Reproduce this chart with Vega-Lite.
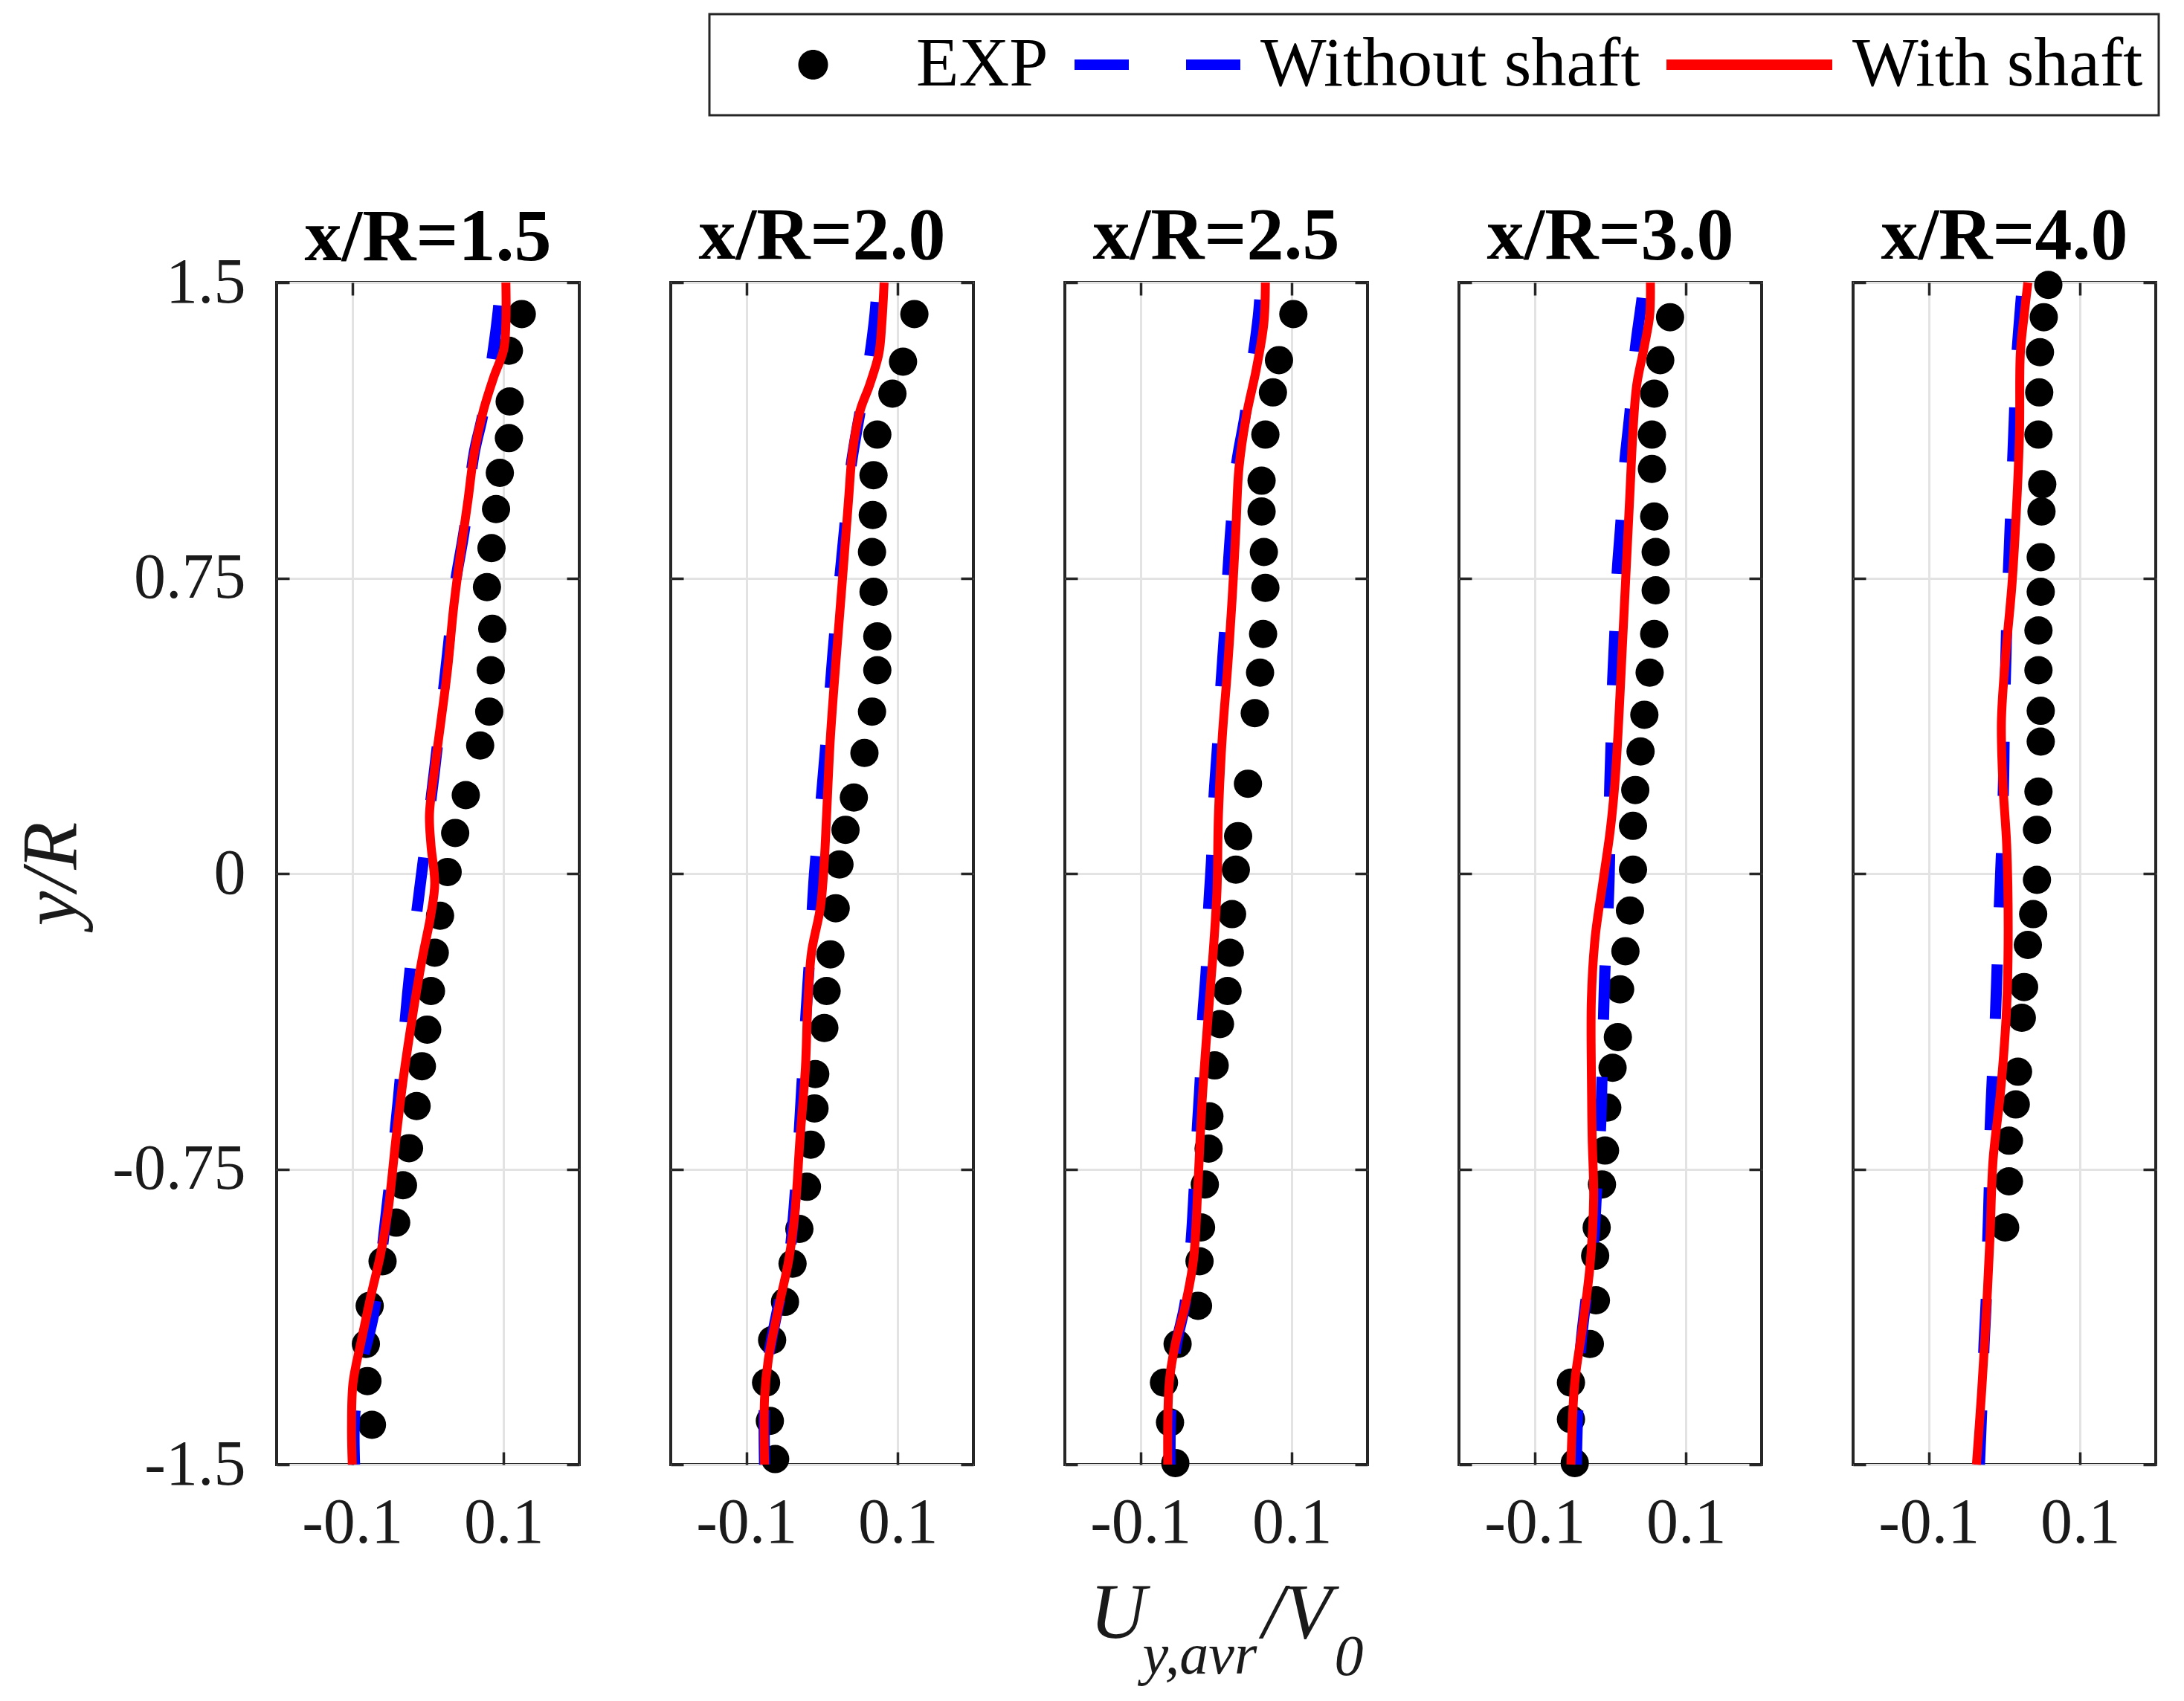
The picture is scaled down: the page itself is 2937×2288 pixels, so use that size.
{
  "$schema": "https://vega.github.io/schema/vega-lite/v6.json",
  "background": "white",
  "padding": {"left": 15, "top": 17, "right": 10, "bottom": 10},
  "datasets": {
    "exp": [
      {"xR": 1.5, "u": 0.124, "y": 1.42}, {"xR": 1.5, "u": 0.107, "y": 1.327}, {"xR": 1.5, "u": 0.108, "y": 1.198}, {"xR": 1.5, "u": 0.107, "y": 1.105},
      {"xR": 1.5, "u": 0.095, "y": 1.017}, {"xR": 1.5, "u": 0.09, "y": 0.925}, {"xR": 1.5, "u": 0.084, "y": 0.826}, {"xR": 1.5, "u": 0.078, "y": 0.727},
      {"xR": 1.5, "u": 0.085, "y": 0.621}, {"xR": 1.5, "u": 0.083, "y": 0.516}, {"xR": 1.5, "u": 0.081, "y": 0.411}, {"xR": 1.5, "u": 0.069, "y": 0.325},
      {"xR": 1.5, "u": 0.05, "y": 0.199}, {"xR": 1.5, "u": 0.036, "y": 0.103}, {"xR": 1.5, "u": 0.026, "y": 0.004}, {"xR": 1.5, "u": 0.016, "y": -0.107},
      {"xR": 1.5, "u": 0.009, "y": -0.201}, {"xR": 1.5, "u": 0.004, "y": -0.298}, {"xR": 1.5, "u": -0.001, "y": -0.396}, {"xR": 1.5, "u": -0.008, "y": -0.489},
      {"xR": 1.5, "u": -0.015, "y": -0.59}, {"xR": 1.5, "u": -0.025, "y": -0.697}, {"xR": 1.5, "u": -0.033, "y": -0.791}, {"xR": 1.5, "u": -0.042, "y": -0.886},
      {"xR": 1.5, "u": -0.06, "y": -0.984}, {"xR": 1.5, "u": -0.077, "y": -1.097}, {"xR": 1.5, "u": -0.082, "y": -1.194}, {"xR": 1.5, "u": -0.08, "y": -1.288},
      {"xR": 1.5, "u": -0.074, "y": -1.399},
      {"xR": 2.0, "u": 0.122, "y": 1.42}, {"xR": 2.0, "u": 0.107, "y": 1.299}, {"xR": 2.0, "u": 0.093, "y": 1.218}, {"xR": 2.0, "u": 0.073, "y": 1.114},
      {"xR": 2.0, "u": 0.068, "y": 1.011}, {"xR": 2.0, "u": 0.067, "y": 0.91}, {"xR": 2.0, "u": 0.066, "y": 0.816}, {"xR": 2.0, "u": 0.068, "y": 0.715},
      {"xR": 2.0, "u": 0.073, "y": 0.602}, {"xR": 2.0, "u": 0.073, "y": 0.516}, {"xR": 2.0, "u": 0.066, "y": 0.411}, {"xR": 2.0, "u": 0.056, "y": 0.306},
      {"xR": 2.0, "u": 0.042, "y": 0.193}, {"xR": 2.0, "u": 0.031, "y": 0.111}, {"xR": 2.0, "u": 0.023, "y": 0.023}, {"xR": 2.0, "u": 0.018, "y": -0.088},
      {"xR": 2.0, "u": 0.011, "y": -0.205}, {"xR": 2.0, "u": 0.006, "y": -0.298}, {"xR": 2.0, "u": 0.003, "y": -0.392}, {"xR": 2.0, "u": -0.009, "y": -0.509},
      {"xR": 2.0, "u": -0.01, "y": -0.596}, {"xR": 2.0, "u": -0.015, "y": -0.688}, {"xR": 2.0, "u": -0.02, "y": -0.795}, {"xR": 2.0, "u": -0.03, "y": -0.902},
      {"xR": 2.0, "u": -0.039, "y": -0.99}, {"xR": 2.0, "u": -0.049, "y": -1.087}, {"xR": 2.0, "u": -0.066, "y": -1.184}, {"xR": 2.0, "u": -0.074, "y": -1.292},
      {"xR": 2.0, "u": -0.069, "y": -1.389}, {"xR": 2.0, "u": -0.062, "y": -1.486},
      {"xR": 2.5, "u": 0.102, "y": 1.42}, {"xR": 2.5, "u": 0.083, "y": 1.303}, {"xR": 2.5, "u": 0.075, "y": 1.221}, {"xR": 2.5, "u": 0.065, "y": 1.114},
      {"xR": 2.5, "u": 0.06, "y": 0.997}, {"xR": 2.5, "u": 0.06, "y": 0.919}, {"xR": 2.5, "u": 0.063, "y": 0.816}, {"xR": 2.5, "u": 0.065, "y": 0.725},
      {"xR": 2.5, "u": 0.062, "y": 0.608}, {"xR": 2.5, "u": 0.058, "y": 0.51}, {"xR": 2.5, "u": 0.051, "y": 0.407}, {"xR": 2.5, "u": 0.042, "y": 0.228},
      {"xR": 2.5, "u": 0.029, "y": 0.095}, {"xR": 2.5, "u": 0.026, "y": 0.01}, {"xR": 2.5, "u": 0.021, "y": -0.103}, {"xR": 2.5, "u": 0.018, "y": -0.201},
      {"xR": 2.5, "u": 0.015, "y": -0.298}, {"xR": 2.5, "u": 0.005, "y": -0.382}, {"xR": 2.5, "u": -0.002, "y": -0.487}, {"xR": 2.5, "u": -0.009, "y": -0.616},
      {"xR": 2.5, "u": -0.01, "y": -0.698}, {"xR": 2.5, "u": -0.015, "y": -0.789}, {"xR": 2.5, "u": -0.02, "y": -0.898}, {"xR": 2.5, "u": -0.022, "y": -0.984},
      {"xR": 2.5, "u": -0.024, "y": -1.097}, {"xR": 2.5, "u": -0.051, "y": -1.194}, {"xR": 2.5, "u": -0.069, "y": -1.292}, {"xR": 2.5, "u": -0.061, "y": -1.393},
      {"xR": 2.5, "u": -0.054, "y": -1.496},
      {"xR": 3.0, "u": 0.079, "y": 1.412}, {"xR": 3.0, "u": 0.066, "y": 1.303}, {"xR": 3.0, "u": 0.058, "y": 1.218}, {"xR": 3.0, "u": 0.055, "y": 1.114},
      {"xR": 3.0, "u": 0.055, "y": 1.027}, {"xR": 3.0, "u": 0.058, "y": 0.906}, {"xR": 3.0, "u": 0.06, "y": 0.816}, {"xR": 3.0, "u": 0.06, "y": 0.719},
      {"xR": 3.0, "u": 0.058, "y": 0.608}, {"xR": 3.0, "u": 0.052, "y": 0.51}, {"xR": 3.0, "u": 0.045, "y": 0.403}, {"xR": 3.0, "u": 0.04, "y": 0.31},
      {"xR": 3.0, "u": 0.033, "y": 0.212}, {"xR": 3.0, "u": 0.03, "y": 0.121}, {"xR": 3.0, "u": 0.03, "y": 0.01}, {"xR": 3.0, "u": 0.026, "y": -0.094},
      {"xR": 3.0, "u": 0.02, "y": -0.197}, {"xR": 3.0, "u": 0.013, "y": -0.294}, {"xR": 3.0, "u": 0.01, "y": -0.415}, {"xR": 3.0, "u": 0.003, "y": -0.493},
      {"xR": 3.0, "u": -0.004, "y": -0.594}, {"xR": 3.0, "u": -0.007, "y": -0.703}, {"xR": 3.0, "u": -0.011, "y": -0.789}, {"xR": 3.0, "u": -0.018, "y": -0.898},
      {"xR": 3.0, "u": -0.02, "y": -0.97}, {"xR": 3.0, "u": -0.019, "y": -1.083}, {"xR": 3.0, "u": -0.027, "y": -1.194}, {"xR": 3.0, "u": -0.052, "y": -1.292},
      {"xR": 3.0, "u": -0.052, "y": -1.385}, {"xR": 3.0, "u": -0.047, "y": -1.496},
      {"xR": 4.0, "u": 0.058, "y": 1.494}, {"xR": 4.0, "u": 0.052, "y": 1.412}, {"xR": 4.0, "u": 0.047, "y": 1.323}, {"xR": 4.0, "u": 0.046, "y": 1.221},
      {"xR": 4.0, "u": 0.045, "y": 1.114}, {"xR": 4.0, "u": 0.05, "y": 0.988}, {"xR": 4.0, "u": 0.049, "y": 0.919}, {"xR": 4.0, "u": 0.048, "y": 0.803},
      {"xR": 4.0, "u": 0.048, "y": 0.715}, {"xR": 4.0, "u": 0.045, "y": 0.617}, {"xR": 4.0, "u": 0.045, "y": 0.516}, {"xR": 4.0, "u": 0.048, "y": 0.413},
      {"xR": 4.0, "u": 0.048, "y": 0.335}, {"xR": 4.0, "u": 0.045, "y": 0.208}, {"xR": 4.0, "u": 0.043, "y": 0.111}, {"xR": 4.0, "u": 0.043, "y": -0.016},
      {"xR": 4.0, "u": 0.038, "y": -0.103}, {"xR": 4.0, "u": 0.031, "y": -0.181}, {"xR": 4.0, "u": 0.026, "y": -0.288}, {"xR": 4.0, "u": 0.023, "y": -0.366},
      {"xR": 4.0, "u": 0.018, "y": -0.503}, {"xR": 4.0, "u": 0.015, "y": -0.586}, {"xR": 4.0, "u": 0.006, "y": -0.678}, {"xR": 4.0, "u": 0.006, "y": -0.781},
      {"xR": 4.0, "u": 0.001, "y": -0.898}
    ],
    "with": [
      {"xR": 1.5, "u": 0.103, "y": 1.5}, {"xR": 1.5, "u": 0.103, "y": 1.397}, {"xR": 1.5, "u": 0.1, "y": 1.329}, {"xR": 1.5, "u": 0.087, "y": 1.26},
      {"xR": 1.5, "u": 0.073, "y": 1.173}, {"xR": 1.5, "u": 0.061, "y": 1.066}, {"xR": 1.5, "u": 0.053, "y": 0.949}, {"xR": 1.5, "u": 0.043, "y": 0.812},
      {"xR": 1.5, "u": 0.034, "y": 0.676}, {"xR": 1.5, "u": 0.026, "y": 0.52}, {"xR": 1.5, "u": 0.017, "y": 0.384}, {"xR": 1.5, "u": 0.009, "y": 0.267},
      {"xR": 1.5, "u": 0.002, "y": 0.15}, {"xR": 1.5, "u": 0.004, "y": 0.072}, {"xR": 1.5, "u": 0.009, "y": -0.025}, {"xR": 1.5, "u": 0.004, "y": -0.103},
      {"xR": 1.5, "u": -0.008, "y": -0.22}, {"xR": 1.5, "u": -0.02, "y": -0.357}, {"xR": 1.5, "u": -0.032, "y": -0.512}, {"xR": 1.5, "u": -0.042, "y": -0.668},
      {"xR": 1.5, "u": -0.052, "y": -0.844}, {"xR": 1.5, "u": -0.062, "y": -0.96}, {"xR": 1.5, "u": -0.076, "y": -1.077}, {"xR": 1.5, "u": -0.089, "y": -1.194},
      {"xR": 1.5, "u": -0.099, "y": -1.292}, {"xR": 1.5, "u": -0.101, "y": -1.409}, {"xR": 1.5, "u": -0.1, "y": -1.5},
      {"xR": 2.0, "u": 0.082, "y": 1.5}, {"xR": 2.0, "u": 0.079, "y": 1.397}, {"xR": 2.0, "u": 0.075, "y": 1.319}, {"xR": 2.0, "u": 0.063, "y": 1.241},
      {"xR": 2.0, "u": 0.05, "y": 1.173}, {"xR": 2.0, "u": 0.04, "y": 1.066}, {"xR": 2.0, "u": 0.035, "y": 0.949}, {"xR": 2.0, "u": 0.028, "y": 0.773},
      {"xR": 2.0, "u": 0.02, "y": 0.579}, {"xR": 2.0, "u": 0.011, "y": 0.345}, {"xR": 2.0, "u": 0.006, "y": 0.15}, {"xR": 2.0, "u": 0.003, "y": 0.033},
      {"xR": 2.0, "u": -0.002, "y": -0.084}, {"xR": 2.0, "u": -0.014, "y": -0.201}, {"xR": 2.0, "u": -0.019, "y": -0.337}, {"xR": 2.0, "u": -0.022, "y": -0.493},
      {"xR": 2.0, "u": -0.029, "y": -0.668}, {"xR": 2.0, "u": -0.036, "y": -0.863}, {"xR": 2.0, "u": -0.044, "y": -0.98}, {"xR": 2.0, "u": -0.057, "y": -1.097},
      {"xR": 2.0, "u": -0.071, "y": -1.233}, {"xR": 2.0, "u": -0.076, "y": -1.331}, {"xR": 2.0, "u": -0.076, "y": -1.5},
      {"xR": 2.5, "u": 0.065, "y": 1.5}, {"xR": 2.5, "u": 0.063, "y": 1.397}, {"xR": 2.5, "u": 0.053, "y": 1.28}, {"xR": 2.5, "u": 0.04, "y": 1.163},
      {"xR": 2.5, "u": 0.03, "y": 1.027}, {"xR": 2.5, "u": 0.026, "y": 0.871}, {"xR": 2.5, "u": 0.021, "y": 0.695}, {"xR": 2.5, "u": 0.015, "y": 0.52},
      {"xR": 2.5, "u": 0.008, "y": 0.345}, {"xR": 2.5, "u": 0.003, "y": 0.15}, {"xR": 2.5, "u": 0.001, "y": -0.045}, {"xR": 2.5, "u": -0.004, "y": -0.201},
      {"xR": 2.5, "u": -0.012, "y": -0.396}, {"xR": 2.5, "u": -0.019, "y": -0.59}, {"xR": 2.5, "u": -0.024, "y": -0.785}, {"xR": 2.5, "u": -0.03, "y": -0.98},
      {"xR": 2.5, "u": -0.041, "y": -1.097}, {"xR": 2.5, "u": -0.054, "y": -1.194}, {"xR": 2.5, "u": -0.062, "y": -1.292}, {"xR": 2.5, "u": -0.064, "y": -1.5},
      {"xR": 3.0, "u": 0.053, "y": 1.5}, {"xR": 3.0, "u": 0.052, "y": 1.416}, {"xR": 3.0, "u": 0.045, "y": 1.338}, {"xR": 3.0, "u": 0.035, "y": 1.241},
      {"xR": 3.0, "u": 0.03, "y": 1.124}, {"xR": 3.0, "u": 0.026, "y": 0.968}, {"xR": 3.0, "u": 0.021, "y": 0.773}, {"xR": 3.0, "u": 0.016, "y": 0.579},
      {"xR": 3.0, "u": 0.011, "y": 0.384}, {"xR": 3.0, "u": 0.006, "y": 0.228}, {"xR": 3.0, "u": 0.0, "y": 0.111}, {"xR": 3.0, "u": -0.01, "y": -0.025},
      {"xR": 3.0, "u": -0.02, "y": -0.162}, {"xR": 3.0, "u": -0.025, "y": -0.318}, {"xR": 3.0, "u": -0.025, "y": -0.512}, {"xR": 3.0, "u": -0.024, "y": -0.668},
      {"xR": 3.0, "u": -0.022, "y": -0.824}, {"xR": 3.0, "u": -0.027, "y": -0.999}, {"xR": 3.0, "u": -0.037, "y": -1.155}, {"xR": 3.0, "u": -0.047, "y": -1.292},
      {"xR": 3.0, "u": -0.052, "y": -1.5},
      {"xR": 4.0, "u": 0.031, "y": 1.5}, {"xR": 4.0, "u": 0.026, "y": 1.416}, {"xR": 4.0, "u": 0.021, "y": 1.319}, {"xR": 4.0, "u": 0.02, "y": 1.124},
      {"xR": 4.0, "u": 0.016, "y": 0.929}, {"xR": 4.0, "u": 0.01, "y": 0.734}, {"xR": 4.0, "u": 0.001, "y": 0.54}, {"xR": 4.0, "u": -0.004, "y": 0.384},
      {"xR": 4.0, "u": -0.002, "y": 0.228}, {"xR": 4.0, "u": 0.003, "y": 0.072}, {"xR": 4.0, "u": 0.005, "y": -0.142}, {"xR": 4.0, "u": 0.003, "y": -0.337},
      {"xR": 4.0, "u": -0.005, "y": -0.551}, {"xR": 4.0, "u": -0.015, "y": -0.727}, {"xR": 4.0, "u": -0.019, "y": -0.921}, {"xR": 4.0, "u": -0.024, "y": -1.116},
      {"xR": 4.0, "u": -0.03, "y": -1.311}, {"xR": 4.0, "u": -0.037, "y": -1.5}
    ],
    "without": [
      {"xR": 1.5, "u": 0.096, "y": 1.5}, {"xR": 1.5, "u": 0.093, "y": 1.43}, {"xR": 1.5, "u": 0.085, "y": 1.31}, {"xR": 1.5, "u": 0.072, "y": 1.16},
      {"xR": 1.5, "u": 0.061, "y": 1.066}, {"xR": 1.5, "u": 0.048, "y": 0.871}, {"xR": 1.5, "u": 0.036, "y": 0.734}, {"xR": 1.5, "u": 0.026, "y": 0.559},
      {"xR": 1.5, "u": 0.009, "y": 0.267}, {"xR": 1.5, "u": -0.001, "y": 0.111}, {"xR": 1.5, "u": -0.01, "y": -0.025}, {"xR": 1.5, "u": -0.02, "y": -0.181},
      {"xR": 1.5, "u": -0.027, "y": -0.308}, {"xR": 1.5, "u": -0.039, "y": -0.571}, {"xR": 1.5, "u": -0.054, "y": -0.844}, {"xR": 1.5, "u": -0.072, "y": -1.12},
      {"xR": 1.5, "u": -0.088, "y": -1.25}, {"xR": 1.5, "u": -0.097, "y": -1.38}, {"xR": 1.5, "u": -0.097, "y": -1.5},
      {"xR": 2.0, "u": 0.073, "y": 1.5}, {"xR": 2.0, "u": 0.07, "y": 1.42}, {"xR": 2.0, "u": 0.062, "y": 1.3}, {"xR": 2.0, "u": 0.05, "y": 1.17},
      {"xR": 2.0, "u": 0.038, "y": 1.03}, {"xR": 2.0, "u": 0.03, "y": 0.88}, {"xR": 2.0, "u": 0.022, "y": 0.72}, {"xR": 2.0, "u": 0.014, "y": 0.55},
      {"xR": 2.0, "u": 0.006, "y": 0.35}, {"xR": 2.0, "u": -0.002, "y": 0.17}, {"xR": 2.0, "u": -0.01, "y": 0.0}, {"xR": 2.0, "u": -0.016, "y": -0.2},
      {"xR": 2.0, "u": -0.021, "y": -0.35}, {"xR": 2.0, "u": -0.027, "y": -0.55}, {"xR": 2.0, "u": -0.035, "y": -0.8}, {"xR": 2.0, "u": -0.044, "y": -0.98},
      {"xR": 2.0, "u": -0.058, "y": -1.1}, {"xR": 2.0, "u": -0.071, "y": -1.23}, {"xR": 2.0, "u": -0.076, "y": -1.33}, {"xR": 2.0, "u": -0.076, "y": -1.5},
      {"xR": 2.5, "u": 0.059, "y": 1.5}, {"xR": 2.5, "u": 0.056, "y": 1.42}, {"xR": 2.5, "u": 0.048, "y": 1.3}, {"xR": 2.5, "u": 0.038, "y": 1.16},
      {"xR": 2.5, "u": 0.027, "y": 1.04}, {"xR": 2.5, "u": 0.02, "y": 0.89}, {"xR": 2.5, "u": 0.015, "y": 0.75}, {"xR": 2.5, "u": 0.011, "y": 0.61},
      {"xR": 2.5, "u": 0.006, "y": 0.47}, {"xR": 2.5, "u": 0.002, "y": 0.33}, {"xR": 2.5, "u": -0.003, "y": 0.19}, {"xR": 2.5, "u": -0.006, "y": 0.04},
      {"xR": 2.5, "u": -0.01, "y": -0.09}, {"xR": 2.5, "u": -0.013, "y": -0.24}, {"xR": 2.5, "u": -0.018, "y": -0.37}, {"xR": 2.5, "u": -0.021, "y": -0.52},
      {"xR": 2.5, "u": -0.025, "y": -0.65}, {"xR": 2.5, "u": -0.029, "y": -0.8}, {"xR": 2.5, "u": -0.033, "y": -0.93}, {"xR": 2.5, "u": -0.041, "y": -1.09},
      {"xR": 2.5, "u": -0.053, "y": -1.2}, {"xR": 2.5, "u": -0.06, "y": -1.36}, {"xR": 2.5, "u": -0.061, "y": -1.5},
      {"xR": 3.0, "u": 0.044, "y": 1.5}, {"xR": 3.0, "u": 0.042, "y": 1.46}, {"xR": 3.0, "u": 0.033, "y": 1.33}, {"xR": 3.0, "u": 0.026, "y": 1.17},
      {"xR": 3.0, "u": 0.019, "y": 1.04}, {"xR": 3.0, "u": 0.014, "y": 0.89}, {"xR": 3.0, "u": 0.009, "y": 0.76}, {"xR": 3.0, "u": 0.006, "y": 0.61},
      {"xR": 3.0, "u": 0.003, "y": 0.48}, {"xR": 3.0, "u": 0.001, "y": 0.33}, {"xR": 3.0, "u": -0.001, "y": 0.19}, {"xR": 3.0, "u": -0.001, "y": 0.04},
      {"xR": 3.0, "u": -0.003, "y": -0.09}, {"xR": 3.0, "u": -0.007, "y": -0.24}, {"xR": 3.0, "u": -0.009, "y": -0.37}, {"xR": 3.0, "u": -0.011, "y": -0.52},
      {"xR": 3.0, "u": -0.013, "y": -0.65}, {"xR": 3.0, "u": -0.018, "y": -0.8}, {"xR": 3.0, "u": -0.022, "y": -0.93}, {"xR": 3.0, "u": -0.032, "y": -1.08},
      {"xR": 3.0, "u": -0.039, "y": -1.2}, {"xR": 3.0, "u": -0.043, "y": -1.36}, {"xR": 3.0, "u": -0.045, "y": -1.5},
      {"xR": 4.0, "u": 0.024, "y": 1.5}, {"xR": 4.0, "u": 0.021, "y": 1.43}, {"xR": 4.0, "u": 0.016, "y": 1.3}, {"xR": 4.0, "u": 0.013, "y": 1.15},
      {"xR": 4.0, "u": 0.01, "y": 1.0}, {"xR": 4.0, "u": 0.007, "y": 0.85}, {"xR": 4.0, "u": 0.004, "y": 0.7}, {"xR": 4.0, "u": 0.002, "y": 0.55},
      {"xR": 4.0, "u": 0.0, "y": 0.4}, {"xR": 4.0, "u": -0.001, "y": 0.25}, {"xR": 4.0, "u": -0.003, "y": 0.1}, {"xR": 4.0, "u": -0.006, "y": -0.05},
      {"xR": 4.0, "u": -0.009, "y": -0.2}, {"xR": 4.0, "u": -0.012, "y": -0.37}, {"xR": 4.0, "u": -0.016, "y": -0.52}, {"xR": 4.0, "u": -0.019, "y": -0.66},
      {"xR": 4.0, "u": -0.02, "y": -0.8}, {"xR": 4.0, "u": -0.022, "y": -0.93}, {"xR": 4.0, "u": -0.024, "y": -1.08}, {"xR": 4.0, "u": -0.027, "y": -1.2},
      {"xR": 4.0, "u": -0.03, "y": -1.36}, {"xR": 4.0, "u": -0.033, "y": -1.5}
    ]
  },
  "spacing": 115,
  "hconcat": [
    {
      "width": 407, "height": 1590,
      "title": {"text": "x/R=1.5", "offset": -34},
      "layer": [
        {
          "data": {"name": "exp"},
          "transform": [{"filter": "datum.xR == 1.5"}],
          "mark": {"type": "point", "filled": true, "size": 1444, "opacity": 1},
          "encoding": {
            "x": {"field": "u", "type": "quantitative", "scale": {"domain": [-0.2, 0.2], "nice": false, "zero": false},
                  "axis": {"orient": "bottom", "values": [-0.1, 0.1], "labelExpr": "'' + datum.value", "grid": true, "title": null}},
            "y": {"field": "y", "type": "quantitative", "scale": {"domain": [-1.5, 1.5], "nice": false, "zero": false},
                  "axis": {"orient": "left", "values": [-1.5, -0.75, 0, 0.75, 1.5], "labelExpr": "'' + datum.value", "grid": true,
                           "title": "y/R", "titleFontSize": 105, "titlePadding": 49}},
            "color": {
              "datum": "EXP",
              "scale": {"domain": ["EXP", "Without shaft", "With shaft"], "range": ["black", "blue", "red"]},
              "legend": {
                "title": null, "orient": "none", "legendX": 582, "legendY": -361, "direction": "horizontal",
                "padding": 21, "strokeColor": "#262626", "fillColor": "white",
                "labelFont": "Liberation Serif", "labelFontSize": 94, "labelColor": "black", "labelLimit": 2000,
                "labelOffset": 91.5, "symbolOffset": 71.5, "symbolSize": 6084, "columnPadding": 6,
                "symbolType": {"expr": "datum.value === 'EXP' ? 'M-0.5128,0A0.5128,0.5128,0,1,1,0.5128,0A0.5128,0.5128,0,1,1,-0.5128,0Z' : 'M-2.859,0L2.859,0'"},
                "symbolStrokeWidth": {"expr": "datum.value === 'EXP' ? 0 : 14"},
                "symbolDash": {"expr": "datum.value === 'Without shaft' ? [73, 77] : [1, 0]"},
                "symbolStrokeColor": {"expr": "datum.value === 'With shaft' ? 'red' : (datum.value === 'EXP' ? 'black' : 'blue')"},
                "symbolFillColor": "black",
                "symbolOpacity": 1
              }
            }
          }
        },
        {
          "data": {"name": "without"},
          "transform": [{"filter": "datum.xR == 1.5"}],
          "mark": {"type": "line", "strokeWidth": 15, "strokeDash": [73, 77], "interpolate": "catmull-rom"},
          "encoding": {
            "x": {"field": "u", "type": "quantitative", "scale": {"domain": [-0.2, 0.2], "nice": false, "zero": false},
                  "axis": {"orient": "top", "values": [-0.1, 0.1], "labels": false, "grid": false, "title": null}},
            "y": {"field": "y", "type": "quantitative", "scale": {"domain": [-1.5, 1.5], "nice": false, "zero": false},
                  "axis": {"orient": "right", "values": [-1.5, -0.75, 0, 0.75, 1.5], "labels": false, "grid": false, "title": null}},
            "order": {"field": "y", "type": "quantitative"},
            "color": {"datum": "Without shaft"}
          }
        },
        {
          "data": {"name": "with"},
          "transform": [{"filter": "datum.xR == 1.5"}],
          "mark": {"type": "line", "strokeWidth": 12, "interpolate": "catmull-rom"},
          "encoding": {
            "x": {"field": "u", "type": "quantitative", "axis": null},
            "y": {"field": "y", "type": "quantitative", "axis": null},
            "order": {"field": "y", "type": "quantitative"},
            "color": {"datum": "With shaft"}
          }
        }
      ],
      "resolve": {"axis": {"x": "independent", "y": "independent"}}
    },
    {
      "width": 407, "height": 1590,
      "title": {"text": "x/R=2.0", "offset": -19},
      "layer": [
        {
          "data": {"name": "exp"},
          "transform": [{"filter": "datum.xR == 2.0"}],
          "mark": {"type": "point", "filled": true, "size": 1444, "opacity": 1, "color": "black"},
          "encoding": {
            "x": {"field": "u", "type": "quantitative", "scale": {"domain": [-0.2, 0.2], "nice": false, "zero": false},
                  "axis": {"orient": "bottom", "values": [-0.1, 0.1], "labelExpr": "'' + datum.value", "grid": true, "title": null}},
            "y": {"field": "y", "type": "quantitative", "scale": {"domain": [-1.5, 1.5], "nice": false, "zero": false},
                  "axis": {"orient": "left", "values": [-1.5, -0.75, 0, 0.75, 1.5], "labels": false, "grid": true, "title": null}}
          }
        },
        {
          "data": {"name": "without"},
          "transform": [{"filter": "datum.xR == 2.0"}],
          "mark": {"type": "line", "color": "blue", "strokeWidth": 15, "strokeDash": [73, 77], "interpolate": "catmull-rom"},
          "encoding": {
            "x": {"field": "u", "type": "quantitative", "scale": {"domain": [-0.2, 0.2], "nice": false, "zero": false},
                  "axis": {"orient": "top", "values": [-0.1, 0.1], "labels": false, "grid": false, "title": null}},
            "y": {"field": "y", "type": "quantitative", "scale": {"domain": [-1.5, 1.5], "nice": false, "zero": false},
                  "axis": {"orient": "right", "values": [-1.5, -0.75, 0, 0.75, 1.5], "labels": false, "grid": false, "title": null}},
            "order": {"field": "y", "type": "quantitative"}
          }
        },
        {
          "data": {"name": "with"},
          "transform": [{"filter": "datum.xR == 2.0"}],
          "mark": {"type": "line", "color": "red", "strokeWidth": 12, "interpolate": "catmull-rom"},
          "encoding": {
            "x": {"field": "u", "type": "quantitative", "axis": null},
            "y": {"field": "y", "type": "quantitative", "axis": null},
            "order": {"field": "y", "type": "quantitative"}
          }
        }
      ],
      "resolve": {"axis": {"x": "independent", "y": "independent"}}
    },
    {
      "width": 407, "height": 1590,
      "title": {"text": "x/R=2.5", "offset": -19},
      "layer": [
        {
          "data": {"name": "exp"},
          "transform": [{"filter": "datum.xR == 2.5"}],
          "mark": {"type": "point", "filled": true, "size": 1444, "opacity": 1, "color": "black"},
          "encoding": {
            "x": {"field": "u", "type": "quantitative", "scale": {"domain": [-0.2, 0.2], "nice": false, "zero": false},
                  "axis": {"orient": "bottom", "values": [-0.1, 0.1], "labelExpr": "'' + datum.value", "grid": true,
                           "title": "U", "titleX": 33, "titleY": 232, "titleAlign": "left",
                           "titleBaseline": "alphabetic", "titleAngle": 0, "titleFontSize": 105}},
            "y": {"field": "y", "type": "quantitative", "scale": {"domain": [-1.5, 1.5], "nice": false, "zero": false},
                  "axis": {"orient": "left", "values": [-1.5, -0.75, 0, 0.75, 1.5], "labels": false, "grid": true, "title": null}}
          }
        },
        {
          "data": {"name": "without"},
          "transform": [{"filter": "datum.xR == 2.5"}],
          "mark": {"type": "line", "color": "blue", "strokeWidth": 15, "strokeDash": [73, 77], "interpolate": "catmull-rom"},
          "encoding": {
            "x": {"field": "u", "type": "quantitative", "scale": {"domain": [-0.2, 0.2], "nice": false, "zero": false},
                  "axis": {"orient": "top", "values": [-0.1, 0.1], "labels": false, "grid": false,
                           "title": "0", "titleX": 362, "titleY": 1872, "titleAlign": "left",
                           "titleBaseline": "alphabetic", "titleAngle": 0, "titleFontSize": 78}},
            "y": {"field": "y", "type": "quantitative", "scale": {"domain": [-1.5, 1.5], "nice": false, "zero": false},
                  "axis": {"orient": "right", "values": [-1.5, -0.75, 0, 0.75, 1.5], "labels": false, "grid": false,
                           "title": "/V", "titleX": -142, "titleY": 1822, "titleAlign": "left",
                           "titleBaseline": "alphabetic", "titleAngle": 0, "titleFontSize": 105}},
            "order": {"field": "y", "type": "quantitative"}
          }
        },
        {
          "data": {"name": "with"},
          "transform": [{"filter": "datum.xR == 2.5"}],
          "mark": {"type": "line", "color": "red", "strokeWidth": 12, "interpolate": "catmull-rom"},
          "encoding": {
            "x": {"field": "u", "type": "quantitative",
                  "axis": {"orient": "bottom", "labels": false, "ticks": false, "grid": false,
                           "title": "y,avr", "titleX": 104, "titleY": 280, "titleAlign": "left",
                           "titleBaseline": "alphabetic", "titleAngle": 0, "titleFontSize": 78}},
            "y": {"field": "y", "type": "quantitative", "axis": null},
            "order": {"field": "y", "type": "quantitative"}
          }
        }
      ],
      "resolve": {"axis": {"x": "independent", "y": "independent"}}
    },
    {
      "width": 407, "height": 1590,
      "title": {"text": "x/R=3.0", "offset": -19},
      "layer": [
        {
          "data": {"name": "exp"},
          "transform": [{"filter": "datum.xR == 3.0"}],
          "mark": {"type": "point", "filled": true, "size": 1444, "opacity": 1, "color": "black"},
          "encoding": {
            "x": {"field": "u", "type": "quantitative", "scale": {"domain": [-0.2, 0.2], "nice": false, "zero": false},
                  "axis": {"orient": "bottom", "values": [-0.1, 0.1], "labelExpr": "'' + datum.value", "grid": true, "title": null}},
            "y": {"field": "y", "type": "quantitative", "scale": {"domain": [-1.5, 1.5], "nice": false, "zero": false},
                  "axis": {"orient": "left", "values": [-1.5, -0.75, 0, 0.75, 1.5], "labels": false, "grid": true, "title": null}}
          }
        },
        {
          "data": {"name": "without"},
          "transform": [{"filter": "datum.xR == 3.0"}],
          "mark": {"type": "line", "color": "blue", "strokeWidth": 15, "strokeDash": [73, 77], "interpolate": "catmull-rom"},
          "encoding": {
            "x": {"field": "u", "type": "quantitative", "scale": {"domain": [-0.2, 0.2], "nice": false, "zero": false},
                  "axis": {"orient": "top", "values": [-0.1, 0.1], "labels": false, "grid": false, "title": null}},
            "y": {"field": "y", "type": "quantitative", "scale": {"domain": [-1.5, 1.5], "nice": false, "zero": false},
                  "axis": {"orient": "right", "values": [-1.5, -0.75, 0, 0.75, 1.5], "labels": false, "grid": false, "title": null}},
            "order": {"field": "y", "type": "quantitative"}
          }
        },
        {
          "data": {"name": "with"},
          "transform": [{"filter": "datum.xR == 3.0"}],
          "mark": {"type": "line", "color": "red", "strokeWidth": 12, "interpolate": "catmull-rom"},
          "encoding": {
            "x": {"field": "u", "type": "quantitative", "axis": null},
            "y": {"field": "y", "type": "quantitative", "axis": null},
            "order": {"field": "y", "type": "quantitative"}
          }
        }
      ],
      "resolve": {"axis": {"x": "independent", "y": "independent"}}
    },
    {
      "width": 407, "height": 1590,
      "title": {"text": "x/R=4.0", "offset": -19},
      "layer": [
        {
          "data": {"name": "exp"},
          "transform": [{"filter": "datum.xR == 4.0"}],
          "mark": {"type": "point", "filled": true, "size": 1444, "opacity": 1, "color": "black"},
          "encoding": {
            "x": {"field": "u", "type": "quantitative", "scale": {"domain": [-0.2, 0.2], "nice": false, "zero": false},
                  "axis": {"orient": "bottom", "values": [-0.1, 0.1], "labelExpr": "'' + datum.value", "grid": true, "title": null}},
            "y": {"field": "y", "type": "quantitative", "scale": {"domain": [-1.5, 1.5], "nice": false, "zero": false},
                  "axis": {"orient": "left", "values": [-1.5, -0.75, 0, 0.75, 1.5], "labels": false, "grid": true, "title": null}}
          }
        },
        {
          "data": {"name": "without"},
          "transform": [{"filter": "datum.xR == 4.0"}],
          "mark": {"type": "line", "color": "blue", "strokeWidth": 15, "strokeDash": [73, 77], "interpolate": "catmull-rom"},
          "encoding": {
            "x": {"field": "u", "type": "quantitative", "scale": {"domain": [-0.2, 0.2], "nice": false, "zero": false},
                  "axis": {"orient": "top", "values": [-0.1, 0.1], "labels": false, "grid": false, "title": null}},
            "y": {"field": "y", "type": "quantitative", "scale": {"domain": [-1.5, 1.5], "nice": false, "zero": false},
                  "axis": {"orient": "right", "values": [-1.5, -0.75, 0, 0.75, 1.5], "labels": false, "grid": false, "title": null}},
            "order": {"field": "y", "type": "quantitative"}
          }
        },
        {
          "data": {"name": "with"},
          "transform": [{"filter": "datum.xR == 4.0"}],
          "mark": {"type": "line", "color": "red", "strokeWidth": 12, "interpolate": "catmull-rom"},
          "encoding": {
            "x": {"field": "u", "type": "quantitative", "axis": null},
            "y": {"field": "y", "type": "quantitative", "axis": null},
            "order": {"field": "y", "type": "quantitative"}
          }
        }
      ],
      "resolve": {"axis": {"x": "independent", "y": "independent"}}
    }
  ],
  "config": {
    "view": {"stroke": "#262626", "strokeWidth": 4},
    "title": {"font": "Liberation Serif", "fontSize": 100, "fontWeight": "bold", "color": "black",
              "baseline": "alphabetic", "frame": "group", "anchor": "middle"},
    "axis": {"domain": false, "tickSize": -17, "tickWidth": 3.5, "tickColor": "#262626",
             "gridColor": "#e3e3e3", "gridWidth": 3,
             "labelFont": "Liberation Serif", "labelFontSize": 86, "labelColor": "#1a1a1a", "labelOverlap": false,
             "titleFont": "Liberation Serif", "titleFontWeight": "normal", "titleFontStyle": "italic", "titleColor": "#1a1a1a"},
    "axisX": {"labelPadding": 53},
    "axisY": {"labelPadding": 59},
    "legend": {"strokeWidth": 3}
  }
}
